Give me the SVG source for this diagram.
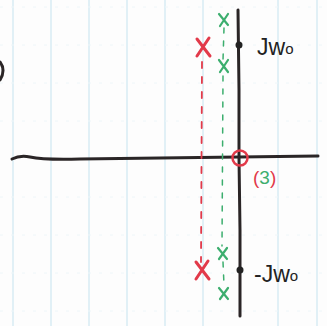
<svg xmlns="http://www.w3.org/2000/svg" width="327" height="326" viewBox="0 0 327 326">
<style>
.grid{stroke:#cfe8f2;stroke-width:1.2}
.hgrid{stroke:#eef6f9;stroke-width:1;stroke-dasharray:3 8}
.ax{stroke:#2a2526;stroke-width:3;fill:none;stroke-linecap:round}
.red{stroke:#e23a4a;fill:none;stroke-linecap:round}
.grn{stroke:#3cae6e;fill:none;stroke-linecap:round}
.lbl{font-family:"Liberation Sans",Arial,sans-serif;fill:#222;font-size:23px}
</style>
<rect width="327" height="326" fill="#fdfdfd"/>
<g id="paper">
<line class="grid" x1="13" y1="0" x2="13" y2="326"/>
<line class="grid" x1="51" y1="0" x2="51" y2="326"/>
<line class="grid" x1="89" y1="0" x2="89" y2="326"/>
<line class="grid" x1="127" y1="0" x2="127" y2="326"/>
<line class="grid" x1="165" y1="0" x2="165" y2="326"/>
<line class="grid" x1="203" y1="0" x2="203" y2="326"/>
<line class="grid" x1="278" y1="0" x2="278" y2="326"/>
<line class="grid" x1="317" y1="0" x2="317" y2="326"/>
<line class="hgrid" x1="0" y1="7" x2="327" y2="7"/>
<line class="hgrid" x1="0" y1="45" x2="327" y2="45"/>
<line class="hgrid" x1="0" y1="83" x2="327" y2="83"/>
<line class="hgrid" x1="0" y1="121" x2="327" y2="121"/>
<line class="hgrid" x1="0" y1="197" x2="327" y2="197"/>
<line class="hgrid" x1="0" y1="235" x2="327" y2="235"/>
<line class="hgrid" x1="0" y1="273" x2="327" y2="273"/>
<line class="hgrid" x1="0" y1="311" x2="327" y2="311"/>
</g>
<g id="connectors">
<path class="ax" d="M12 159 Q20 155 30 157 Q44 160 80 159 L160 158 L318 156"/>
<path class="ax" d="M238 10 L239 90 L239 158 L240 230 L240 316"/>
<path class="red" stroke-width="1.8" stroke-dasharray="6 9" d="M202 62 L201 262"/>
<path class="grn" stroke-width="1.5" stroke-dasharray="5 8" d="M224 28 L223 60 M223 76 L222 246 M223 262 L224 285"/>
</g>
<g id="partial-left">
<path class="ax" stroke-width="2.4" d="M0 62 Q6 70 0 80"/>
</g>
<g id="jw0">
<circle cx="239" cy="45" r="3.5" fill="#222"/>
<text class="lbl" x="257" y="55">Jw<tspan font-size="15" dy="-1">o</tspan></text>
</g>
<g id="neg-jw0">
<circle cx="240" cy="270" r="3.5" fill="#222"/>
<text class="lbl" x="254" y="282">-Jw<tspan font-size="15" dy="-1">o</tspan></text>
</g>
<g id="origin-zero">
<circle class="red" stroke-width="2.5" cx="240" cy="158" r="7.5"/>
<text x="253" y="184" font-family="'Liberation Sans',Arial,sans-serif" font-size="19" fill="#e23a4a">(<tspan fill="#3cae6e">3</tspan>)</text>
</g>
<g id="red-pole-top">
<path class="red" stroke-width="3" d="M197 39 L210 56 M209 38 L197 56"/>
</g>
<g id="red-pole-bottom">
<path class="red" stroke-width="3" d="M196 262 L209 279 M208 261 L196 279"/>
</g>
<g id="green-poles">
<path class="grn" stroke-width="2.2" d="M219 14 L228 25 M228 14 L220 26"/>
<path class="grn" stroke-width="2.2" d="M219 60 L228 72 M228 60 L220 72"/>
<path class="grn" stroke-width="2.2" d="M218 248 L227 259 M227 248 L219 259"/>
<path class="grn" stroke-width="2.2" d="M219 288 L228 299 M228 288 L220 299"/>
</g>
</svg>
